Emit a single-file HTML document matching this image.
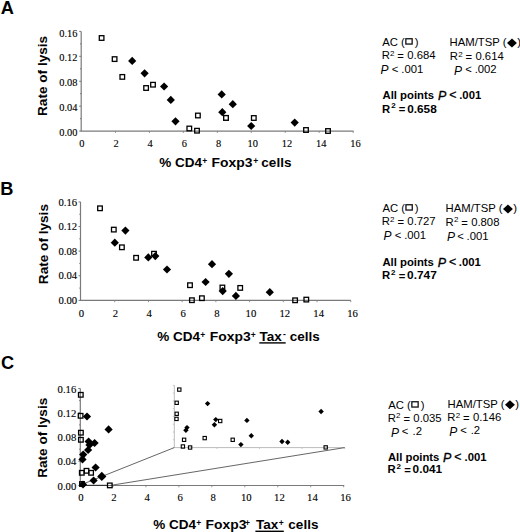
<!DOCTYPE html>
<html><head><meta charset="utf-8"><title>Figure</title><style>
html,body{margin:0;padding:0;background:#fff;width:520px;height:532px;overflow:hidden}
svg{display:block}
text{font-family:"Liberation Sans",sans-serif}
.tk{font-family:"Liberation Serif",serif;font-size:10px;fill:#000;stroke:#000;stroke-width:0.12}
.pl{font-size:18.2px;font-weight:bold;fill:#000}
.yl{font-size:13.6px;font-weight:bold;fill:#000}
.xl{font-size:13.5px;font-weight:bold;fill:#000}
.xs{font-size:8.5px;font-weight:bold;fill:#000}
.lg{font-size:11.3px;fill:#000}
.lb{font-size:11.3px;font-weight:bold;fill:#000}
.s2{font-size:8px;fill:#000}
.s2b{font-size:8px;font-weight:bold;fill:#000}
.pi{font-style:italic;font-size:12px;fill:#000}
.pib{font-style:italic;font-size:12.4px;fill:#000;stroke:#000;stroke-width:0.35}
.lgb{font-size:12.4px;fill:#000;stroke:#000;stroke-width:0.3}
</style></head>
<body><svg width="520" height="532" viewBox="0 0 520 532">
<rect width="520" height="532" fill="#fff"/>
<text x="0.7" y="13.75" class="pl">A</text>
<text transform="translate(47.0 75.9) rotate(-90)" class="yl" text-anchor="middle">Rate of lysis</text>
<line x1="81.2" y1="31.4" x2="81.2" y2="131.1" stroke="#7a7a7a" stroke-width="1.2"/>
<line x1="80.60000000000001" y1="131.1" x2="353.5" y2="131.1" stroke="#7a7a7a" stroke-width="1.2"/>
<line x1="79.2" y1="31.40" x2="81.2" y2="31.40" stroke="#7a7a7a" stroke-width="1"/>
<line x1="80.0" y1="43.86" x2="81.2" y2="43.86" stroke="#7a7a7a" stroke-width="1"/>
<line x1="79.2" y1="56.32" x2="81.2" y2="56.32" stroke="#7a7a7a" stroke-width="1"/>
<line x1="80.0" y1="68.79" x2="81.2" y2="68.79" stroke="#7a7a7a" stroke-width="1"/>
<line x1="79.2" y1="81.25" x2="81.2" y2="81.25" stroke="#7a7a7a" stroke-width="1"/>
<line x1="80.0" y1="93.71" x2="81.2" y2="93.71" stroke="#7a7a7a" stroke-width="1"/>
<line x1="79.2" y1="106.17" x2="81.2" y2="106.17" stroke="#7a7a7a" stroke-width="1"/>
<line x1="80.0" y1="118.64" x2="81.2" y2="118.64" stroke="#7a7a7a" stroke-width="1"/>
<line x1="79.2" y1="131.10" x2="81.2" y2="131.10" stroke="#7a7a7a" stroke-width="1"/>
<text x="77.5" y="36.75" class="tk" style="font-size:10.4px" text-anchor="end">0.16</text>
<text x="77.5" y="61.48" class="tk" style="font-size:10.4px" text-anchor="end">0.12</text>
<text x="77.5" y="86.21" class="tk" style="font-size:10.4px" text-anchor="end">0.08</text>
<text x="77.5" y="110.94" class="tk" style="font-size:10.4px" text-anchor="end">0.04</text>
<text x="77.5" y="135.67" class="tk" style="font-size:10.4px" text-anchor="end">0.00</text>
<text x="81.80" y="146.80" class="tk" style="font-size:10.4px" text-anchor="middle">0</text>
<line x1="115.46" y1="131.1" x2="115.46" y2="132.9" stroke="#7a7a7a" stroke-width="0.8"/>
<text x="116.00" y="146.80" class="tk" style="font-size:10.4px" text-anchor="middle">2</text>
<line x1="149.42" y1="131.1" x2="149.42" y2="132.9" stroke="#7a7a7a" stroke-width="0.8"/>
<text x="150.20" y="146.80" class="tk" style="font-size:10.4px" text-anchor="middle">4</text>
<line x1="183.38" y1="131.1" x2="183.38" y2="132.9" stroke="#7a7a7a" stroke-width="0.8"/>
<text x="184.40" y="146.80" class="tk" style="font-size:10.4px" text-anchor="middle">6</text>
<line x1="217.34" y1="131.1" x2="217.34" y2="132.9" stroke="#7a7a7a" stroke-width="0.8"/>
<text x="218.60" y="146.80" class="tk" style="font-size:10.4px" text-anchor="middle">8</text>
<line x1="251.30" y1="131.1" x2="251.30" y2="132.9" stroke="#7a7a7a" stroke-width="0.8"/>
<text x="252.80" y="146.80" class="tk" style="font-size:10.4px" text-anchor="middle">10</text>
<line x1="285.26" y1="131.1" x2="285.26" y2="132.9" stroke="#7a7a7a" stroke-width="0.8"/>
<text x="287.00" y="146.80" class="tk" style="font-size:10.4px" text-anchor="middle">12</text>
<line x1="319.22" y1="131.1" x2="319.22" y2="132.9" stroke="#7a7a7a" stroke-width="0.8"/>
<text x="321.20" y="146.80" class="tk" style="font-size:10.4px" text-anchor="middle">14</text>
<line x1="353.18" y1="131.1" x2="353.18" y2="132.9" stroke="#7a7a7a" stroke-width="0.8"/>
<text x="355.40" y="146.80" class="tk" style="font-size:10.4px" text-anchor="middle">16</text>
<rect x="99.30" y="35.70" width="4.6" height="4.6" fill="none" stroke="#000" stroke-width="1.3"/>
<rect x="112.30" y="56.80" width="4.6" height="4.6" fill="none" stroke="#000" stroke-width="1.3"/>
<rect x="120.00" y="74.60" width="4.6" height="4.6" fill="none" stroke="#000" stroke-width="1.3"/>
<rect x="143.80" y="85.70" width="4.6" height="4.6" fill="none" stroke="#000" stroke-width="1.3"/>
<rect x="150.70" y="82.40" width="4.6" height="4.6" fill="none" stroke="#000" stroke-width="1.3"/>
<rect x="187.00" y="126.20" width="4.6" height="4.6" fill="none" stroke="#000" stroke-width="1.3"/>
<rect x="194.70" y="128.40" width="4.6" height="4.6" fill="none" stroke="#000" stroke-width="1.3"/>
<rect x="195.60" y="113.20" width="4.6" height="4.6" fill="none" stroke="#000" stroke-width="1.3"/>
<rect x="223.70" y="115.60" width="4.6" height="4.6" fill="none" stroke="#000" stroke-width="1.3"/>
<rect x="251.50" y="115.70" width="4.6" height="4.6" fill="none" stroke="#000" stroke-width="1.3"/>
<rect x="303.70" y="127.70" width="4.6" height="4.6" fill="none" stroke="#000" stroke-width="1.3"/>
<rect x="325.70" y="128.70" width="4.6" height="4.6" fill="none" stroke="#000" stroke-width="1.3"/>
<path d="M132.20 56.80L136.30 60.90L132.20 65.00L128.10 60.90Z" fill="#000"/>
<path d="M144.60 69.20L148.70 73.30L144.60 77.40L140.50 73.30Z" fill="#000"/>
<path d="M164.10 82.40L168.20 86.50L164.10 90.60L160.00 86.50Z" fill="#000"/>
<path d="M170.80 95.80L174.90 99.90L170.80 104.00L166.70 99.90Z" fill="#000"/>
<path d="M175.50 117.20L179.60 121.30L175.50 125.40L171.40 121.30Z" fill="#000"/>
<path d="M221.70 90.30L225.80 94.40L221.70 98.50L217.60 94.40Z" fill="#000"/>
<path d="M232.80 100.10L236.90 104.20L232.80 108.30L228.70 104.20Z" fill="#000"/>
<path d="M222.30 108.10L226.40 112.20L222.30 116.30L218.20 112.20Z" fill="#000"/>
<path d="M251.20 121.90L255.30 126.00L251.20 130.10L247.10 126.00Z" fill="#000"/>
<path d="M294.70 118.50L298.80 122.60L294.70 126.70L290.60 122.60Z" fill="#000"/>
<rect x="223.70" y="115.60" width="4.6" height="4.6" fill="#fff" stroke="#000" stroke-width="1.3"/>
<text x="159.26" y="167.00" class="xl">% CD4</text>
<text x="202.14" y="164.20" class="xs">+</text>
<text x="211.57" y="167.00" class="xl" textLength="40.93" lengthAdjust="spacingAndGlyphs">Foxp3</text>
<text x="253.24" y="164.20" class="xs">+</text>
<text x="261.37" y="167.00" class="xl">cells</text>
<text x="0.2" y="194.6" class="pl">B</text>
<text transform="translate(47.8 244.1) rotate(-90)" class="yl" text-anchor="middle">Rate of lysis</text>
<line x1="80.5" y1="201.9" x2="80.5" y2="300.4" stroke="#7a7a7a" stroke-width="1.2"/>
<line x1="79.9" y1="300.4" x2="350.8" y2="300.4" stroke="#7a7a7a" stroke-width="1.2"/>
<line x1="78.5" y1="201.90" x2="80.5" y2="201.90" stroke="#7a7a7a" stroke-width="1"/>
<line x1="79.3" y1="214.21" x2="80.5" y2="214.21" stroke="#7a7a7a" stroke-width="1"/>
<line x1="78.5" y1="226.53" x2="80.5" y2="226.53" stroke="#7a7a7a" stroke-width="1"/>
<line x1="79.3" y1="238.84" x2="80.5" y2="238.84" stroke="#7a7a7a" stroke-width="1"/>
<line x1="78.5" y1="251.15" x2="80.5" y2="251.15" stroke="#7a7a7a" stroke-width="1"/>
<line x1="79.3" y1="263.46" x2="80.5" y2="263.46" stroke="#7a7a7a" stroke-width="1"/>
<line x1="78.5" y1="275.77" x2="80.5" y2="275.77" stroke="#7a7a7a" stroke-width="1"/>
<line x1="79.3" y1="288.09" x2="80.5" y2="288.09" stroke="#7a7a7a" stroke-width="1"/>
<line x1="78.5" y1="300.40" x2="80.5" y2="300.40" stroke="#7a7a7a" stroke-width="1"/>
<text x="77.1" y="205.60" class="tk" style="font-size:10.7px" text-anchor="end">0.16</text>
<text x="77.1" y="230.20" class="tk" style="font-size:10.7px" text-anchor="end">0.12</text>
<text x="77.1" y="254.80" class="tk" style="font-size:10.7px" text-anchor="end">0.08</text>
<text x="77.1" y="279.40" class="tk" style="font-size:10.7px" text-anchor="end">0.04</text>
<text x="77.1" y="304.00" class="tk" style="font-size:10.7px" text-anchor="end">0.00</text>
<text x="81.50" y="316.50" class="tk" style="font-size:10.7px" text-anchor="middle">0</text>
<line x1="114.72" y1="300.4" x2="114.72" y2="302.2" stroke="#7a7a7a" stroke-width="0.8"/>
<text x="115.38" y="316.50" class="tk" style="font-size:10.7px" text-anchor="middle">2</text>
<line x1="148.44" y1="300.4" x2="148.44" y2="302.2" stroke="#7a7a7a" stroke-width="0.8"/>
<text x="149.26" y="316.50" class="tk" style="font-size:10.7px" text-anchor="middle">4</text>
<line x1="182.16" y1="300.4" x2="182.16" y2="302.2" stroke="#7a7a7a" stroke-width="0.8"/>
<text x="183.14" y="316.50" class="tk" style="font-size:10.7px" text-anchor="middle">6</text>
<line x1="215.88" y1="300.4" x2="215.88" y2="302.2" stroke="#7a7a7a" stroke-width="0.8"/>
<text x="217.02" y="316.50" class="tk" style="font-size:10.7px" text-anchor="middle">8</text>
<line x1="249.60" y1="300.4" x2="249.60" y2="302.2" stroke="#7a7a7a" stroke-width="0.8"/>
<text x="250.90" y="316.50" class="tk" style="font-size:10.7px" text-anchor="middle">10</text>
<line x1="283.32" y1="300.4" x2="283.32" y2="302.2" stroke="#7a7a7a" stroke-width="0.8"/>
<text x="284.78" y="316.50" class="tk" style="font-size:10.7px" text-anchor="middle">12</text>
<line x1="317.04" y1="300.4" x2="317.04" y2="302.2" stroke="#7a7a7a" stroke-width="0.8"/>
<text x="318.66" y="316.50" class="tk" style="font-size:10.7px" text-anchor="middle">14</text>
<line x1="350.76" y1="300.4" x2="350.76" y2="302.2" stroke="#7a7a7a" stroke-width="0.8"/>
<text x="352.54" y="316.50" class="tk" style="font-size:10.7px" text-anchor="middle">16</text>
<rect x="97.70" y="206.00" width="4.6" height="4.6" fill="none" stroke="#000" stroke-width="1.3"/>
<rect x="111.50" y="227.30" width="4.6" height="4.6" fill="none" stroke="#000" stroke-width="1.3"/>
<rect x="119.60" y="245.00" width="4.6" height="4.6" fill="none" stroke="#000" stroke-width="1.3"/>
<rect x="133.80" y="255.50" width="4.6" height="4.6" fill="none" stroke="#000" stroke-width="1.3"/>
<rect x="151.70" y="251.40" width="4.6" height="4.6" fill="none" stroke="#000" stroke-width="1.3"/>
<rect x="187.70" y="282.90" width="4.6" height="4.6" fill="none" stroke="#000" stroke-width="1.3"/>
<rect x="189.60" y="297.90" width="4.6" height="4.6" fill="none" stroke="#000" stroke-width="1.3"/>
<rect x="199.60" y="295.90" width="4.6" height="4.6" fill="none" stroke="#000" stroke-width="1.3"/>
<rect x="220.10" y="285.20" width="4.6" height="4.6" fill="none" stroke="#000" stroke-width="1.3"/>
<rect x="237.90" y="285.60" width="4.6" height="4.6" fill="none" stroke="#000" stroke-width="1.3"/>
<rect x="292.80" y="298.00" width="4.6" height="4.6" fill="none" stroke="#000" stroke-width="1.3"/>
<rect x="304.00" y="297.30" width="4.6" height="4.6" fill="none" stroke="#000" stroke-width="1.3"/>
<path d="M125.40 226.50L129.50 230.60L125.40 234.70L121.30 230.60Z" fill="#000"/>
<path d="M114.80 238.60L118.90 242.70L114.80 246.80L110.70 242.70Z" fill="#000"/>
<path d="M148.30 253.30L152.40 257.40L148.30 261.50L144.20 257.40Z" fill="#000"/>
<path d="M155.30 252.00L159.40 256.10L155.30 260.20L151.20 256.10Z" fill="#000"/>
<path d="M167.00 265.40L171.10 269.50L167.00 273.60L162.90 269.50Z" fill="#000"/>
<path d="M205.60 277.90L209.70 282.00L205.60 286.10L201.50 282.00Z" fill="#000"/>
<path d="M212.00 260.10L216.10 264.20L212.00 268.30L207.90 264.20Z" fill="#000"/>
<path d="M222.70 287.00L226.80 291.10L222.70 295.20L218.60 291.10Z" fill="#000"/>
<path d="M228.90 269.70L233.00 273.80L228.90 277.90L224.80 273.80Z" fill="#000"/>
<path d="M235.90 291.80L240.00 295.90L235.90 300.00L231.80 295.90Z" fill="#000"/>
<path d="M269.80 288.10L273.90 292.20L269.80 296.30L265.70 292.20Z" fill="#000"/>
<text x="157.16" y="340.80" class="xl">% CD4</text>
<text x="200.24" y="338.00" class="xs">+</text>
<text x="209.87" y="340.80" class="xl" textLength="40.93" lengthAdjust="spacingAndGlyphs">Foxp3</text>
<text x="250.64" y="338.00" class="xs">+</text>
<text x="259.55" y="340.80" class="xl">Tax</text>
<text x="282.97" y="336.80" class="xs">-</text>
<line x1="259.3" y1="342.9" x2="285.7" y2="342.9" stroke="#000" stroke-width="1.4"/>
<text x="289.77" y="340.80" class="xl">cells</text>
<text x="0.9" y="369.0" class="pl">C</text>
<text transform="translate(47.0 437.8) rotate(-90)" class="yl" text-anchor="middle">Rate of lysis</text>
<line x1="80.3" y1="388.5" x2="80.3" y2="485.5" stroke="#7a7a7a" stroke-width="1.2"/>
<line x1="79.7" y1="485.5" x2="344.2" y2="485.5" stroke="#7a7a7a" stroke-width="1.2"/>
<line x1="78.3" y1="388.50" x2="80.3" y2="388.50" stroke="#7a7a7a" stroke-width="1"/>
<line x1="79.1" y1="400.62" x2="80.3" y2="400.62" stroke="#7a7a7a" stroke-width="1"/>
<line x1="78.3" y1="412.75" x2="80.3" y2="412.75" stroke="#7a7a7a" stroke-width="1"/>
<line x1="79.1" y1="424.88" x2="80.3" y2="424.88" stroke="#7a7a7a" stroke-width="1"/>
<line x1="78.3" y1="437.00" x2="80.3" y2="437.00" stroke="#7a7a7a" stroke-width="1"/>
<line x1="79.1" y1="449.12" x2="80.3" y2="449.12" stroke="#7a7a7a" stroke-width="1"/>
<line x1="78.3" y1="461.25" x2="80.3" y2="461.25" stroke="#7a7a7a" stroke-width="1"/>
<line x1="79.1" y1="473.38" x2="80.3" y2="473.38" stroke="#7a7a7a" stroke-width="1"/>
<line x1="78.3" y1="485.50" x2="80.3" y2="485.50" stroke="#7a7a7a" stroke-width="1"/>
<text x="76.3" y="393.10" class="tk" style="font-size:10.7px" text-anchor="end">0.16</text>
<text x="76.3" y="417.20" class="tk" style="font-size:10.7px" text-anchor="end">0.12</text>
<text x="76.3" y="441.30" class="tk" style="font-size:10.7px" text-anchor="end">0.08</text>
<text x="76.3" y="465.40" class="tk" style="font-size:10.7px" text-anchor="end">0.04</text>
<text x="76.3" y="489.50" class="tk" style="font-size:10.7px" text-anchor="end">0.00</text>
<text x="80.90" y="501.30" class="tk" style="font-size:10.7px" text-anchor="middle">0</text>
<line x1="112.96" y1="485.5" x2="112.96" y2="487.3" stroke="#7a7a7a" stroke-width="0.8"/>
<text x="113.98" y="501.30" class="tk" style="font-size:10.7px" text-anchor="middle">2</text>
<line x1="145.92" y1="485.5" x2="145.92" y2="487.3" stroke="#7a7a7a" stroke-width="0.8"/>
<text x="147.06" y="501.30" class="tk" style="font-size:10.7px" text-anchor="middle">4</text>
<line x1="178.88" y1="485.5" x2="178.88" y2="487.3" stroke="#7a7a7a" stroke-width="0.8"/>
<text x="180.14" y="501.30" class="tk" style="font-size:10.7px" text-anchor="middle">6</text>
<line x1="211.84" y1="485.5" x2="211.84" y2="487.3" stroke="#7a7a7a" stroke-width="0.8"/>
<text x="213.22" y="501.30" class="tk" style="font-size:10.7px" text-anchor="middle">8</text>
<line x1="244.80" y1="485.5" x2="244.80" y2="487.3" stroke="#7a7a7a" stroke-width="0.8"/>
<text x="246.30" y="501.30" class="tk" style="font-size:10.7px" text-anchor="middle">10</text>
<line x1="277.76" y1="485.5" x2="277.76" y2="487.3" stroke="#7a7a7a" stroke-width="0.8"/>
<text x="279.38" y="501.30" class="tk" style="font-size:10.7px" text-anchor="middle">12</text>
<line x1="310.72" y1="485.5" x2="310.72" y2="487.3" stroke="#7a7a7a" stroke-width="0.8"/>
<text x="312.46" y="501.30" class="tk" style="font-size:10.7px" text-anchor="middle">14</text>
<line x1="343.68" y1="485.5" x2="343.68" y2="487.3" stroke="#7a7a7a" stroke-width="0.8"/>
<text x="345.54" y="501.30" class="tk" style="font-size:10.7px" text-anchor="middle">16</text>
<line x1="84" y1="485.4" x2="107" y2="485.4" stroke="#333" stroke-width="1.2"/>
<line x1="174.3" y1="385.3" x2="174.3" y2="447.6" stroke="#bcbcbc" stroke-width="1"/>
<line x1="174.3" y1="447.6" x2="344.7" y2="447.6" stroke="#bcbcbc" stroke-width="1"/>
<line x1="172.8" y1="385.30" x2="174.3" y2="385.30" stroke="#bcbcbc" stroke-width="0.8"/>
<line x1="172.8" y1="393.09" x2="174.3" y2="393.09" stroke="#bcbcbc" stroke-width="0.8"/>
<line x1="172.8" y1="400.88" x2="174.3" y2="400.88" stroke="#bcbcbc" stroke-width="0.8"/>
<line x1="172.8" y1="408.66" x2="174.3" y2="408.66" stroke="#bcbcbc" stroke-width="0.8"/>
<line x1="172.8" y1="416.45" x2="174.3" y2="416.45" stroke="#bcbcbc" stroke-width="0.8"/>
<line x1="172.8" y1="424.24" x2="174.3" y2="424.24" stroke="#bcbcbc" stroke-width="0.8"/>
<line x1="172.8" y1="432.03" x2="174.3" y2="432.03" stroke="#bcbcbc" stroke-width="0.8"/>
<line x1="172.8" y1="439.81" x2="174.3" y2="439.81" stroke="#bcbcbc" stroke-width="0.8"/>
<line x1="172.8" y1="447.60" x2="174.3" y2="447.60" stroke="#bcbcbc" stroke-width="0.8"/>
<line x1="216.90" y1="447.6" x2="216.90" y2="449" stroke="#bcbcbc" stroke-width="0.8"/>
<line x1="259.50" y1="447.6" x2="259.50" y2="449" stroke="#bcbcbc" stroke-width="0.8"/>
<line x1="302.10" y1="447.6" x2="302.10" y2="449" stroke="#bcbcbc" stroke-width="0.8"/>
<line x1="344.70" y1="447.6" x2="344.70" y2="449" stroke="#bcbcbc" stroke-width="0.8"/>
<line x1="82.5" y1="484.2" x2="174.3" y2="447.6" stroke="#555" stroke-width="0.9"/>
<line x1="109.8" y1="485.5" x2="344.7" y2="447.6" stroke="#555" stroke-width="0.9"/>
<rect x="177.65" y="387.95" width="3.3" height="3.3" fill="none" stroke="#000" stroke-width="1.1"/>
<rect x="175.05" y="401.15" width="3.3" height="3.3" fill="none" stroke="#000" stroke-width="1.1"/>
<rect x="175.05" y="412.15" width="3.3" height="3.3" fill="none" stroke="#000" stroke-width="1.1"/>
<rect x="174.85" y="417.25" width="3.3" height="3.3" fill="none" stroke="#000" stroke-width="1.1"/>
<rect x="182.45" y="438.15" width="3.3" height="3.3" fill="none" stroke="#000" stroke-width="1.1"/>
<rect x="181.25" y="444.85" width="3.3" height="3.3" fill="none" stroke="#000" stroke-width="1.1"/>
<rect x="188.45" y="445.85" width="3.3" height="3.3" fill="none" stroke="#000" stroke-width="1.1"/>
<rect x="203.05" y="436.45" width="3.3" height="3.3" fill="none" stroke="#000" stroke-width="1.1"/>
<rect x="218.55" y="419.35" width="3.3" height="3.3" fill="none" stroke="#000" stroke-width="1.1"/>
<rect x="231.05" y="438.15" width="3.3" height="3.3" fill="none" stroke="#000" stroke-width="1.1"/>
<rect x="324.05" y="445.75" width="3.3" height="3.3" fill="none" stroke="#000" stroke-width="1.1"/>
<path d="M207.60 400.90L210.30 403.60L207.60 406.30L204.90 403.60Z" fill="#000"/>
<path d="M187.00 424.90L189.70 427.60L187.00 430.30L184.30 427.60Z" fill="#000"/>
<path d="M185.90 427.50L188.60 430.20L185.90 432.90L183.20 430.20Z" fill="#000"/>
<path d="M215.80 416.90L218.50 419.60L215.80 422.30L213.10 419.60Z" fill="#000"/>
<path d="M214.40 422.10L217.10 424.80L214.40 427.50L211.70 424.80Z" fill="#000"/>
<path d="M240.90 441.90L243.60 444.60L240.90 447.30L238.20 444.60Z" fill="#000"/>
<path d="M246.90 417.70L249.60 420.40L246.90 423.10L244.20 420.40Z" fill="#000"/>
<path d="M251.30 433.00L254.00 435.70L251.30 438.40L248.60 435.70Z" fill="#000"/>
<path d="M282.00 438.80L284.70 441.50L282.00 444.20L279.30 441.50Z" fill="#000"/>
<path d="M287.70 439.60L290.40 442.30L287.70 445.00L285.00 442.30Z" fill="#000"/>
<path d="M321.10 408.80L323.80 411.50L321.10 414.20L318.40 411.50Z" fill="#000"/>
<rect x="78.50" y="392.50" width="4.6" height="4.6" fill="none" stroke="#000" stroke-width="1.3"/>
<rect x="78.30" y="413.50" width="4.6" height="4.6" fill="none" stroke="#000" stroke-width="1.3"/>
<rect x="78.60" y="430.40" width="4.6" height="4.6" fill="none" stroke="#000" stroke-width="1.3"/>
<rect x="78.60" y="437.50" width="4.6" height="4.6" fill="none" stroke="#000" stroke-width="1.3"/>
<rect x="79.50" y="470.50" width="4.6" height="4.6" fill="none" stroke="#000" stroke-width="1.3"/>
<rect x="84.20" y="468.50" width="4.6" height="4.6" fill="none" stroke="#000" stroke-width="1.3"/>
<rect x="88.80" y="470.50" width="4.6" height="4.6" fill="none" stroke="#000" stroke-width="1.3"/>
<rect x="79.70" y="481.70" width="4.6" height="4.6" fill="none" stroke="#000" stroke-width="1.3"/>
<rect x="107.50" y="483.10" width="4.6" height="4.6" fill="none" stroke="#000" stroke-width="1.3"/>
<path d="M87.00 412.40L91.10 416.50L87.00 420.60L82.90 416.50Z" fill="#000"/>
<path d="M108.60 425.30L112.70 429.40L108.60 433.50L104.50 429.40Z" fill="#000"/>
<path d="M88.60 437.40L92.70 441.50L88.60 445.60L84.50 441.50Z" fill="#000"/>
<path d="M94.60 438.90L98.70 443.00L94.60 447.10L90.50 443.00Z" fill="#000"/>
<path d="M89.50 440.90L93.60 445.00L89.50 449.10L85.40 445.00Z" fill="#000"/>
<path d="M88.10 445.90L92.20 450.00L88.10 454.10L84.00 450.00Z" fill="#000"/>
<path d="M83.20 450.50L87.30 454.60L83.20 458.70L79.10 454.60Z" fill="#000"/>
<path d="M82.50 455.30L86.60 459.40L82.50 463.50L78.40 459.40Z" fill="#000"/>
<path d="M95.60 463.40L99.70 467.50L95.60 471.60L91.50 467.50Z" fill="#000"/>
<path d="M93.60 476.40L97.70 480.50L93.60 484.60L89.50 480.50Z" fill="#000"/>
<path d="M83.00 480.40L87.10 484.50L83.00 488.60L78.90 484.50Z" fill="#000"/>
<path d="M101.80 471.80L106.40 476.40L101.80 481.00L97.20 476.40Z" fill="#000"/>
<text x="153.16" y="528.80" class="xl">% CD4</text>
<text x="196.34" y="526.00" class="xs">+</text>
<text x="205.57" y="528.80" class="xl" textLength="40.93" lengthAdjust="spacingAndGlyphs">Foxp3</text>
<text x="245.04" y="526.00" class="xs">+</text>
<text x="256.05" y="528.80" class="xl">Tax</text>
<text x="278.84" y="526.00" class="xs">+</text>
<line x1="255.4" y1="531.3" x2="283.8" y2="531.3" stroke="#000" stroke-width="1.4"/>
<text x="288.37" y="528.80" class="xl">cells</text>
<text x="382.28" y="45.50" class="lg">AC (</text>
<rect x="405.85" y="38.75" width="6.3" height="5.3" fill="none" stroke="#111" stroke-width="1.3"/>
<text x="414.63" y="45.50" class="lg">)</text>
<text x="449.57" y="46.20" class="lg">HAM/TSP (</text>
<path d="M511.95 38.50L516.90 43.05L511.95 47.60L507.00 43.05Z" fill="#000"/>
<text x="517.33" y="46.20" class="lg">)</text>
<text x="381.67" y="59.20" class="lg">R</text>
<text x="390.00" y="55.80" class="s2">2</text>
<text x="397.35" y="60.20" class="lg">=</text>
<text x="407.26" y="59.20" class="lg">0.684</text>
<text x="449.87" y="59.90" class="lg">R</text>
<text x="458.20" y="56.50" class="s2">2</text>
<text x="465.55" y="60.90" class="lg">=</text>
<text x="475.46" y="59.90" class="lg">0.614</text>
<text x="380.43" y="74.10" class="pi">P</text>
<text x="391.74" y="72.60" class="lg">&lt;</text>
<text x="401.37" y="72.60" class="lg">.001</text>
<text x="453.93" y="74.80" class="pi">P</text>
<text x="465.34" y="73.30" class="lg">&lt;</text>
<text x="474.67" y="73.30" class="lg">.002</text>
<text x="382.52" y="98.80" class="lb">All points</text>
<text x="437.92" y="100.20" class="pib">P</text>
<text x="449.29" y="98.80" class="lgb">&lt;</text>
<text x="459.23" y="98.80" class="lb">.001</text>
<text x="382.04" y="112.50" class="lb">R</text>
<text x="391.20" y="108.30" class="s2b">2</text>
<text x="398.73" y="113.30" class="lb">=</text>
<text x="407.23" y="112.50" class="lb" textLength="29.53" lengthAdjust="spacingAndGlyphs">0.658</text>
<text x="382.38" y="211.50" class="lg">AC (</text>
<rect x="405.95" y="204.75" width="6.3" height="5.3" fill="none" stroke="#111" stroke-width="1.3"/>
<text x="414.73" y="211.50" class="lg">)</text>
<text x="445.57" y="212.20" class="lg">HAM/TSP (</text>
<path d="M507.95 204.50L512.90 209.05L507.95 213.60L503.00 209.05Z" fill="#000"/>
<text x="513.33" y="212.20" class="lg">)</text>
<text x="381.77" y="225.00" class="lg">R</text>
<text x="390.10" y="221.60" class="s2">2</text>
<text x="397.45" y="226.00" class="lg">=</text>
<text x="407.36" y="225.00" class="lg">0.727</text>
<text x="445.57" y="225.70" class="lg">R</text>
<text x="453.90" y="222.30" class="s2">2</text>
<text x="461.25" y="226.70" class="lg">=</text>
<text x="471.16" y="225.70" class="lg">0.808</text>
<text x="383.43" y="240.30" class="pi">P</text>
<text x="394.74" y="238.80" class="lg">&lt;</text>
<text x="404.17" y="238.80" class="lg">.001</text>
<text x="446.93" y="241.00" class="pi">P</text>
<text x="457.14" y="239.50" class="lg">&lt;</text>
<text x="466.57" y="239.50" class="lg">.001</text>
<text x="382.42" y="265.80" class="lb">All points</text>
<text x="437.72" y="267.20" class="pib">P</text>
<text x="448.99" y="265.80" class="lgb">&lt;</text>
<text x="458.83" y="265.80" class="lb">.001</text>
<text x="381.94" y="279.30" class="lb">R</text>
<text x="391.10" y="275.10" class="s2b">2</text>
<text x="398.63" y="280.10" class="lb">=</text>
<text x="407.13" y="279.30" class="lb" textLength="29.69" lengthAdjust="spacingAndGlyphs">0.747</text>
<text x="388.28" y="408.50" class="lg">AC (</text>
<rect x="411.85" y="401.75" width="6.3" height="5.3" fill="none" stroke="#111" stroke-width="1.3"/>
<text x="420.63" y="408.50" class="lg">)</text>
<text x="447.57" y="407.90" class="lg">HAM/TSP (</text>
<path d="M509.95 400.20L514.90 404.75L509.95 409.30L505.00 404.75Z" fill="#000"/>
<text x="515.33" y="407.90" class="lg">)</text>
<text x="387.77" y="421.80" class="lg">R</text>
<text x="396.10" y="418.40" class="s2">2</text>
<text x="403.45" y="422.80" class="lg">=</text>
<text x="413.36" y="421.80" class="lg">0.035</text>
<text x="447.37" y="421.20" class="lg">R</text>
<text x="455.70" y="417.80" class="s2">2</text>
<text x="463.05" y="422.20" class="lg">=</text>
<text x="472.96" y="421.20" class="lg">0.146</text>
<text x="390.93" y="436.50" class="pi">P</text>
<text x="401.74" y="435.00" class="lg">&lt;</text>
<text x="412.57" y="435.00" class="lg">.2</text>
<text x="449.13" y="435.90" class="pi">P</text>
<text x="460.14" y="434.40" class="lg">&lt;</text>
<text x="470.67" y="434.40" class="lg">.2</text>
<text x="387.92" y="460.60" class="lb">All points</text>
<text x="443.02" y="462.00" class="pib">P</text>
<text x="454.29" y="460.60" class="lgb">&lt;</text>
<text x="464.53" y="460.60" class="lb">.001</text>
<text x="387.44" y="473.30" class="lb">R</text>
<text x="396.60" y="469.10" class="s2b">2</text>
<text x="404.13" y="474.10" class="lb">=</text>
<text x="412.63" y="473.30" class="lb" textLength="29.49" lengthAdjust="spacingAndGlyphs">0.041</text>
</svg></body></html>
